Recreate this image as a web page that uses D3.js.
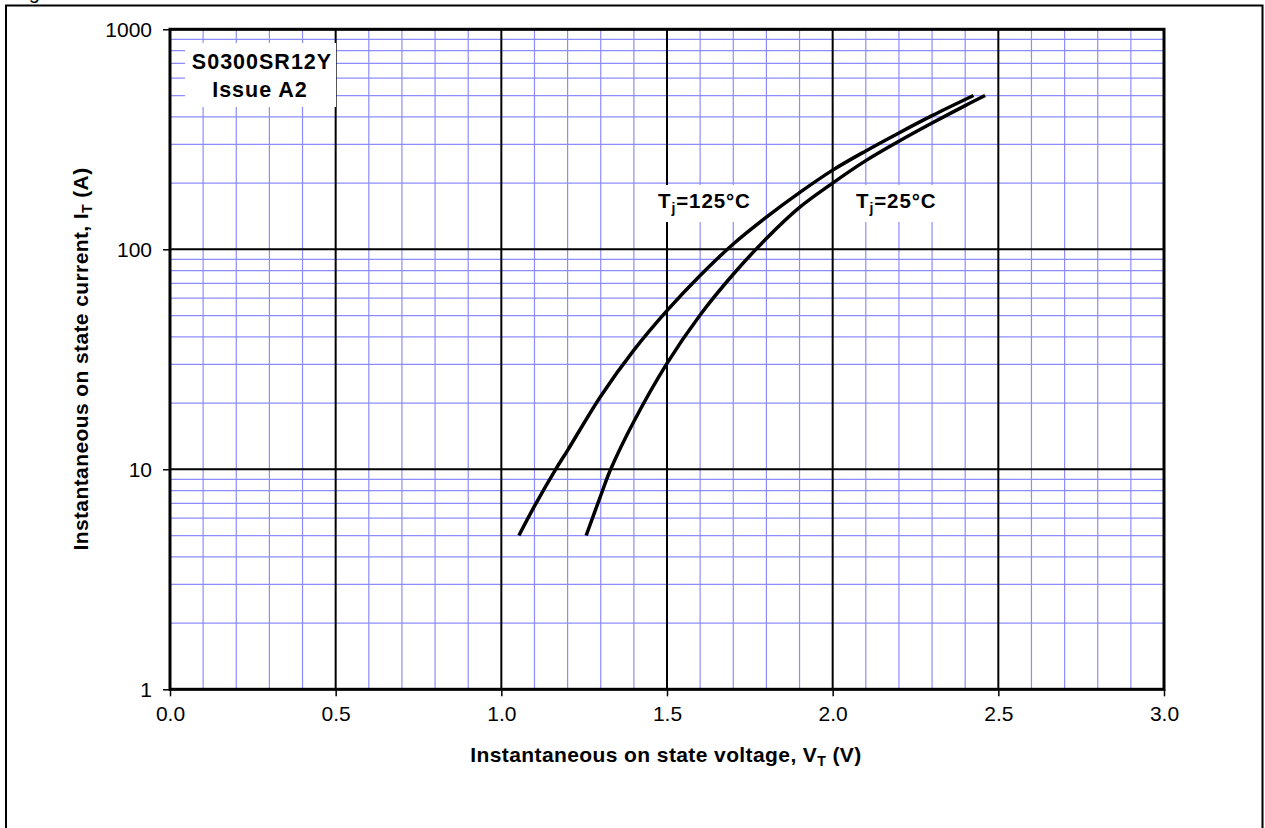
<!DOCTYPE html>
<html>
<head>
<meta charset="utf-8">
<script src="https://cdn.jsdelivr.net/npm/d3@7"></script>
<style>
  html, body { margin: 0; padding: 0; background: #fff; }
  svg { display: block; font-family: "Liberation Sans", Arial, sans-serif; }
</style>
</head>
<body>
<div id="chart"></div>
<script>
// on-state characteristic
const voltage125 = [1.053, 1.1, 1.164, 1.2, 1.3, 1.4, 1.5, 1.6, 1.7, 1.8, 1.9, 2.0, 2.1, 2.2, 2.3, 2.425];
const current125 = [5, 6.8, 10, 12.2, 21.5, 34.8, 52.6, 76, 105.7, 140, 181, 229, 280, 338, 405, 500];

const voltage25 = [1.256, 1.3, 1.33, 1.4, 1.5, 1.6, 1.7, 1.8, 1.9, 2.0, 2.1, 2.2, 2.3, 2.4, 2.46];
const current25 = [5, 7.6, 10, 16.5, 30.3, 50.3, 77, 112, 155, 200, 253, 310, 375, 450, 500];

const xTicks = [0.0, 0.5, 1.0, 1.5, 2.0, 2.5, 3.0];
const yTicks = [1, 10, 100, 1000];

document.addEventListener("DOMContentLoaded", draw);

function draw() {
  const width = 1265;
  const height = 828;
  const plot = { left: 170, top: 29.3, right: 1164, bottom: 689.3 };

  const svg = d3.select("#chart")
    .append("svg")
    .attr("width", width)
    .attr("height", height);

  // outer frame (bottom edge runs off the page)
  svg.append("path")
    .attr("d", `M6,${height + 10} V5.5 H1262.5 V${height + 10}`)
    .attr("fill", "none")
    .attr("stroke", "#000")
    .attr("stroke-width", 2);

  svg.append("text")
    .attr("x", 12)
    .attr("y", -1)
    .attr("font-size", 20)
    .text("Figure");

  const x = d3.scaleLinear().domain([0, 3]).range([plot.left, plot.right]);
  const y = d3.scaleLog().domain([1, 1000]).range([plot.bottom, plot.top]);

  const minorX = d3.range(1, 30).map(d => d / 10).filter(d => Math.round(d * 10) % 5 !== 0);
  const minorY = [];
  [1, 10, 100].forEach(dec => {
    for (let m = 2; m <= 9; m++) minorY.push(dec * m);
  });

  const grid = svg.append("g");

  grid.selectAll("line.mx")
    .data(minorX)
    .enter()
    .append("line")
    .attr("x1", d => x(d))
    .attr("x2", d => x(d))
    .attr("y1", plot.top)
    .attr("y2", plot.bottom)
    .attr("stroke", "#8c8cff")
    .attr("stroke-width", 1.2);

  grid.selectAll("line.my")
    .data(minorY)
    .enter()
    .append("line")
    .attr("x1", plot.left)
    .attr("x2", plot.right)
    .attr("y1", d => y(d))
    .attr("y2", d => y(d))
    .attr("stroke", "#8c8cff")
    .attr("stroke-width", 1.2);

  grid.selectAll("line.Mx")
    .data(xTicks)
    .enter()
    .append("line")
    .attr("x1", d => x(d))
    .attr("x2", d => x(d))
    .attr("y1", plot.top)
    .attr("y2", plot.bottom)
    .attr("stroke", "#000")
    .attr("stroke-width", 2);

  grid.selectAll("line.My")
    .data(yTicks)
    .enter()
    .append("line")
    .attr("x1", plot.left)
    .attr("x2", plot.right)
    .attr("y1", d => y(d))
    .attr("y2", d => y(d))
    .attr("stroke", "#000")
    .attr("stroke-width", 2);

  // white boxes behind the labels
  const boxes = [
    { x: 185, y: 43, w: 151, h: 64 },
    { x: 643, y: 185, w: 114, h: 37 },
    { x: 848, y: 185, w: 97, h: 37 }
  ];
  svg.selectAll("rect.box")
    .data(boxes)
    .enter()
    .append("rect")
    .attr("x", d => d.x)
    .attr("y", d => d.y)
    .attr("width", d => d.w)
    .attr("height", d => d.h)
    .attr("fill", "#fff");

  // axes
  const xAxis = svg.append("g")
    .attr("transform", `translate(0,${plot.bottom})`)
    .call(d3.axisBottom(x).tickValues(xTicks).tickFormat(d3.format(".1f")).tickSize(7).tickPadding(10));
  const yAxis = svg.append("g")
    .attr("transform", `translate(${plot.left},0)`)
    .call(d3.axisLeft(y).tickValues(yTicks).tickFormat(d3.format("d")).tickSize(7).tickPadding(11));

  [xAxis, yAxis].forEach(a => {
    a.select(".domain").remove();
    a.selectAll(".tick line").attr("stroke", "#000").attr("stroke-width", 1.5);
    a.selectAll(".tick text")
      .attr("font-family", "Liberation Sans, Arial, sans-serif")
      .attr("font-size", 21)
      .attr("fill", "#000");
  });
  yAxis.selectAll(".tick text").attr("dy", "0.36em");

  // plot border
  svg.append("rect")
    .attr("x", plot.left)
    .attr("y", plot.top)
    .attr("width", plot.right - plot.left)
    .attr("height", plot.bottom - plot.top)
    .attr("fill", "none")
    .attr("stroke", "#000")
    .attr("stroke-width", 3);

  // curves
  const line = d3.line()
    .x(d => x(d[0]))
    .y(d => y(d[1]))
    .curve(d3.curveCatmullRom.alpha(0.5));

  [[voltage125, current125], [voltage25, current25]].forEach(([vs, is]) => {
    svg.append("path")
      .attr("d", line(vs.map((v, i) => [v, is[i]])))
      .attr("fill", "none")
      .attr("stroke", "#000")
      .attr("stroke-width", 3.5);
  });

  // texts
  const id = svg.append("text")
    .attr("text-anchor", "middle")
    .attr("font-weight", "bold")
    .attr("font-size", 21.5)
    .attr("letter-spacing", 1);
  id.append("tspan").attr("x", 262).attr("y", 68.5).text("S0300SR12Y");
  id.append("tspan").attr("x", 260).attr("y", 97).text("Issue A2");

  const curveLabel = (cx, label) => {
    const t = svg.append("text")
      .attr("x", cx)
      .attr("y", 208)
      .attr("font-weight", "bold")
      .attr("font-size", 20.5)
      .attr("letter-spacing", 0.9);
    t.append("tspan").text("T");
    t.append("tspan").attr("font-size", 14).attr("dy", 5).text("j");
    t.append("tspan").attr("dy", -5).text(label);
  };
  curveLabel(658, "=125°C");
  curveLabel(856, "=25°C");

  const xTitle = svg.append("text")
    .attr("x", 666)
    .attr("y", 762)
    .attr("text-anchor", "middle")
    .attr("font-weight", "bold")
    .attr("font-size", 21)
    .attr("letter-spacing", 0.4);
  xTitle.append("tspan").text("Instantaneous on state voltage, V");
  xTitle.append("tspan").attr("font-size", 14).attr("dy", 4).text("T");
  xTitle.append("tspan").attr("dy", -4).text(" (V)");

  const yTitle = svg.append("text")
    .attr("transform", "translate(88,359) rotate(-90)")
    .attr("text-anchor", "middle")
    .attr("font-weight", "bold")
    .attr("font-size", 21)
    .attr("letter-spacing", 0.4);
  yTitle.append("tspan").text("Instantaneous on state current, I");
  yTitle.append("tspan").attr("font-size", 14).attr("dy", 4).text("T");
  yTitle.append("tspan").attr("dy", -4).text(" (A)");
}
</script>
</body>
</html>
